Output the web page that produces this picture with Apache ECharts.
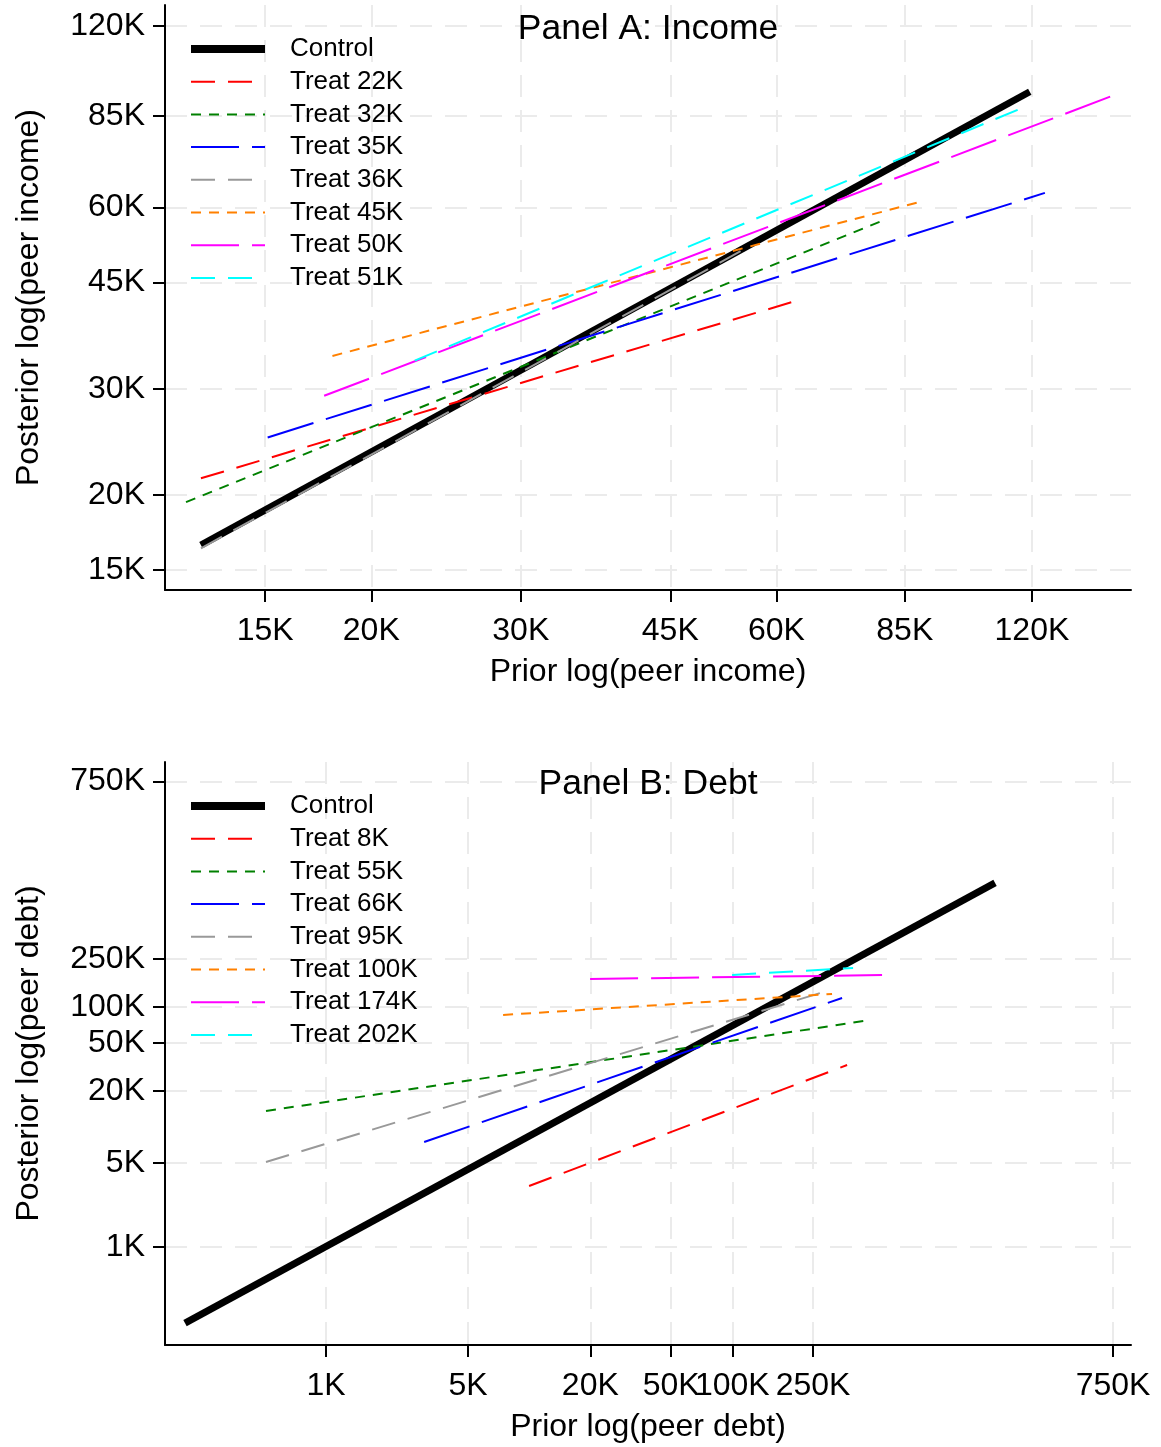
<!DOCTYPE html>
<html>
<head>
<meta charset="utf-8">
<script src="https://cdn.jsdelivr.net/npm/echarts@6/dist/echarts.min.js"></script>
<style>
html,body{margin:0;padding:0;background:#fff;}
#chart{width:1161px;height:1447px;}
</style>
</head>
<body>
<div id="chart"></div>
<script>
// ---------- Panel A: Income ----------
const incomeTicks = [15000, 20000, 30000, 45000, 60000, 85000, 120000];
const incomeTickLabels = ['15K', '20K', '30K', '45K', '60K', '85K', '120K'];
const incomeNames = ['Control', 'Treat 22K', 'Treat 32K', 'Treat 35K', 'Treat 36K', 'Treat 45K', 'Treat 50K', 'Treat 51K'];
const incomeControl = [[12600, 16500], [119300, 93300]];
const incomeT22 = [[12600, 21300], [63800, 42100]];
const incomeT32 = [[12100, 19450], [79900, 56950]];
const incomeT35 = [[15100, 24900], [124300, 63400]];
const incomeT36 = [[12600, 16300], [55100, 51200]];
const incomeT45 = [[18000, 34000], [89500, 61500]];
const incomeT50 = [[17600, 29200], [149000, 91800]];
const incomeT51 = [[22500, 33400], [118400, 88400]];
const incomeRangeX = [11430, 157000];
const incomeRangeY = [13900, 130000];

// ---------- Panel B: Debt ----------
const debtTicks = [1000, 5000, 20000, 50000, 100000, 250000, 7500000];
const debtTickLabels = ['1K', '5K', '20K', '50K', '100K', '250K', '750K'];
const debtNames = ['Control', 'Treat 8K', 'Treat 55K', 'Treat 66K', 'Treat 95K', 'Treat 100K', 'Treat 174K', 'Treat 202K'];
const debtControl = [[202, 233], [1967000, 1074000]];
const debtT8 = [[9990, 3220], [367600, 32760]];
const debtT55 = [[506, 13560], [445800, 76170]];
const debtT66 = [[3040, 7490], [347300, 118400]];
const debtT95 = [[506, 5100], [292900, 135400]];
const debtT100 = [[7440, 85450], [310000, 127800]];
const debtT174 = [[19950, 170400], [598800, 184000]];
const debtT202 = [[99800, 184000], [393400, 210400]];
const debtRangeX = [161, 9190000];
const debtRangeY = [153, 10900000];

// ---------- styles ----------
const FONT = 'Liberation Sans, Arial, sans-serif';
const colors = ['#000000', '#ff0000', '#008000', '#0000ff', '#999999', '#ff8000', '#ff00ff', '#00ffff'];
const dashes = ['solid', [24, 13], [10, 8], [48, 13], [24, 13], [10, 8], [48, 13], [24, 13]];
const widths = [7, 2, 2, 2, 2, 2, 2, 2];
const legendWidths = [8, 2, 2, 2, 2, 2, 2, 2];

function makeLabeler(ticks, labels) {
  return function (v) {
    let best = 0, bd = Infinity;
    for (let i = 0; i < ticks.length; i++) {
      const d = Math.abs(Math.log(v) - Math.log(ticks[i]));
      if (d < bd) { bd = d; best = i; }
    }
    return labels[best];
  };
}

const gridLine = { show: true, lineStyle: { color: '#ebebeb', width: 2, type: [22, 13] } };

function xAxisDef(gridIndex, ticks, labels, range, name) {
  return {
    type: 'log', gridIndex: gridIndex, min: range[0], max: range[1],
    name: name, nameLocation: 'middle', nameGap: 66, nameMoveOverlap: false,
    nameTextStyle: { fontFamily: FONT, fontSize: 32, color: '#000' },
    axisLine: { show: true, lineStyle: { color: '#000', width: 2 } },
    axisTick: { show: true, length: 12, lineStyle: { color: '#000', width: 2 }, customValues: ticks },
    axisLabel: { customValues: ticks, formatter: makeLabeler(ticks, labels), fontFamily: FONT, fontSize: 32, color: '#000', margin: 25 },
    splitLine: gridLine,
    minorTick: { show: false }, minorSplitLine: { show: false }
  };
}
function yAxisDef(gridIndex, ticks, labels, range, name) {
  return {
    type: 'log', gridIndex: gridIndex, min: range[0], max: range[1],
    name: name, nameLocation: 'middle', nameGap: 120, nameMoveOverlap: false,
    nameTextStyle: { fontFamily: FONT, fontSize: 32, color: '#000' },
    axisLine: { show: true, lineStyle: { color: '#000', width: 2 } },
    axisTick: { show: true, length: 12, lineStyle: { color: '#000', width: 2 }, customValues: ticks },
    axisLabel: { customValues: ticks, formatter: makeLabeler(ticks, labels), fontFamily: FONT, fontSize: 32, color: '#000', margin: 20 },
    splitLine: gridLine,
    minorTick: { show: false }, minorSplitLine: { show: false }
  };
}

function lineSeries(name, data, i, axisIdx) {
  return {
    type: 'line', name: name, data: data, xAxisIndex: axisIdx, yAxisIndex: axisIdx,
    symbol: 'none', showSymbol: false, silent: true, animation: false,
    color: colors[i],
    lineStyle: { color: colors[i], width: widths[i], type: dashes[i], cap: 'butt' },
    z: 2 + i
  };
}

const incomeData = [incomeControl, incomeT22, incomeT32, incomeT35, incomeT36, incomeT45, incomeT50, incomeT51];
const debtData = [debtControl, debtT8, debtT55, debtT66, debtT95, debtT100, debtT174, debtT202];

const series = [];
incomeData.forEach((d, i) => series.push(lineSeries(incomeNames[i], d, i, 0)));
debtData.forEach((d, i) => series.push(lineSeries(debtNames[i], d, i, 1)));

function legendDef(top, names) {
  return {
    orient: 'vertical', left: 187, top: top, padding: 0,
    itemWidth: 74, itemHeight: 20, itemGap: 6.7,
    selectedMode: false,
    itemStyle: { opacity: 0 },
    data: names.map((n, i) => ({
      name: n,
      itemStyle: { opacity: 0 },
      lineStyle: { color: colors[i], width: legendWidths[i], type: dashes[i], cap: 'butt' }
    })),
    textStyle: { fontFamily: FONT, fontSize: 26, color: '#000', lineHeight: 26, padding: [0, 0, 0, 20] }
  };
}

const option = {
  backgroundColor: '#ffffff',
  animation: false,
  title: [
    { text: 'Panel A: Income', left: 648, top: 11, textAlign: 'center', padding: 0,
      textStyle: { fontFamily: FONT, fontSize: 35.5, fontWeight: 'normal', color: '#000' } },
    { text: 'Panel B: Debt', left: 648, top: 766, textAlign: 'center', padding: 0,
      textStyle: { fontFamily: FONT, fontSize: 35.5, fontWeight: 'normal', color: '#000' } }
  ],
  legend: [legendDef(36, incomeNames), legendDef(793, debtNames)],
  grid: [
    { left: 165, top: 5, width: 966, height: 585, containLabel: false, outerBoundsMode: 'none' },
    { left: 165, top: 762, width: 966, height: 583, containLabel: false, outerBoundsMode: 'none' }
  ],
  xAxis: [
    xAxisDef(0, incomeTicks, incomeTickLabels, incomeRangeX, 'Prior log(peer income)'),
    xAxisDef(1, debtTicks, debtTickLabels, debtRangeX, 'Prior log(peer debt)')
  ],
  yAxis: [
    yAxisDef(0, incomeTicks, incomeTickLabels, incomeRangeY, 'Posterior log(peer income)'),
    yAxisDef(1, debtTicks, debtTickLabels, debtRangeY, 'Posterior log(peer debt)')
  ],
  series: series
};

const chart = echarts.init(document.getElementById('chart'), null, { renderer: 'canvas' });
chart.setOption(option);
</script>
</body>
</html>
